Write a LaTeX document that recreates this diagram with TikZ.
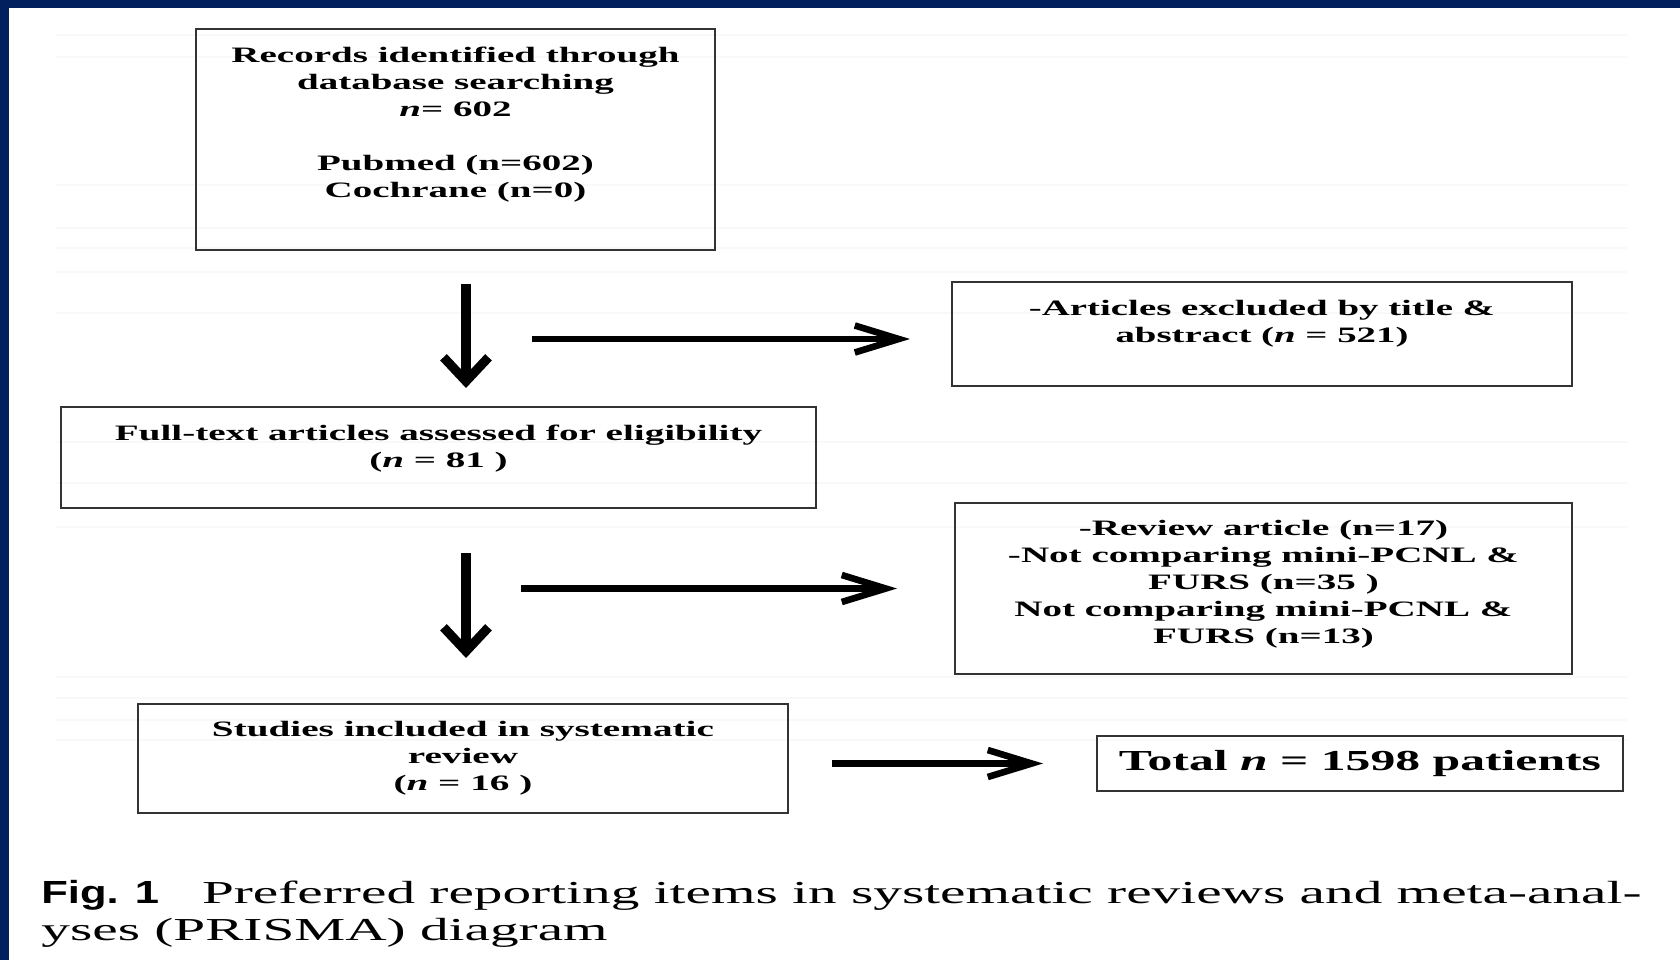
\documentclass[tikz,border=0pt]{standalone}
\usepackage{fontspec}
\usepackage{graphicx}
\setmainfont{Liberation Serif}
\setsansfont{Liberation Sans}
\usetikzlibrary{arrows.meta}
\definecolor{navy}{RGB}{2,31,94}
\newcommand{\wtext}[2]{\resizebox{#1}{\height}{\begin{tabular}{@{}c@{}}#2\end{tabular}}}
\tikzset{
  box/.style={draw=black!80, line width=1.2pt, inner sep=0pt, outer sep=0pt,
    font=\fontsize{11pt}{13.5pt}\selectfont\bfseries},
  varr/.style={line width=4.6pt, -{Straight Barb[length=12pt,width=22.5pt]}},
  harr/.style={line width=3.3pt, -{Straight Barb[length=22pt,width=13.5pt]}},
  rule/.style={black!2.5, line width=1pt}
}
\begin{document}
\begin{tikzpicture}[x=0.5pt,y=-0.5pt]
  \useasboundingbox (0,0) rectangle (1680,960);
  \fill[navy] (0,0) rectangle (1680,8);
  \fill[navy] (0,0) rectangle (9,960);
  \foreach \y in {35,57,185,228,248,272,313,442,483,527,677,698,720,740}
    \draw[rule] (56,\y) -- (1627,\y);

  \node[box, minimum width=259.5pt, minimum height=110.5pt] (rec) at (455.5,139.5)
    {\wtext{224pt}{Records identified through\\database searching\\\textit{n}= 602\\ \\Pubmed (n=602)\\Cochrane (n=0)\\[14.5pt]}};
  \node[box, minimum width=310pt, minimum height=52pt] (excl1) at (1262,334)
    {\wtext{233pt}{-Articles excluded by title \&\\abstract (\textit{n} = 521)\\[10pt]}};
  \node[box, minimum width=377.5pt, minimum height=50.5pt] (full) at (438.5,457.5)
    {\wtext{323.5pt}{Full-text articles assessed for eligibility\\(\textit{n} = 81 )\\[8.5pt]}};
  \node[box, minimum width=308.5pt, minimum height=85.5pt] (excl2) at (1263.5,588.5)
    {\wtext{255.5pt}{-Review article (n=17)\\-Not comparing mini-PCNL \&\\FURS (n=35 )\\Not comparing mini-PCNL \&\\FURS (n=13)\\[4pt]}};
  \node[box, minimum width=325pt, minimum height=54.5pt] (incl) at (463,758.5)
    {\wtext{251pt}{Studies included in systematic\\review\\(\textit{n} = 16 )}};
  \node[box, minimum width=263pt, minimum height=27.5pt, font=\fontsize{14.5pt}{17pt}\selectfont\bfseries] (total) at (1360,763.5)
    {\wtext{241pt}{Total \textit{n} = 1598 patients}};

  \coordinate (d1) at (466,339);
  \draw[varr, shorten <=17pt, shorten >=9.5pt] (rec.south -| d1) -- (full.north -| d1);
  \draw[varr, shorten <=22.5pt, shorten >=23pt] (full.south -| d1) -- (incl.north -| d1);
  \draw[harr, shorten <=33pt, shorten >=21pt] (d1) -- (excl1.west |- d1);
  \draw[harr, shorten <=27.5pt, shorten >=29pt] (d1 |- excl2.west) -- (excl2.west);
  \draw[harr, shorten <=22pt, shorten >=27pt] (incl.east |- total.west) -- (total.west);

  \node[anchor=base west, inner sep=0pt, font=\fontsize{16pt}{18.5pt}\selectfont] (fig) at (41,903)
    {\resizebox{800pt}{\height}{\begin{tabular}[t]{@{}l@{}}\scalebox{0.76}[1]{\textsf{\bfseries Fig. 1}}\hspace{0.75em}Preferred reporting items in systematic reviews and meta-anal-\\yses (PRISMA) diagram\end{tabular}}};
\end{tikzpicture}
\end{document}
